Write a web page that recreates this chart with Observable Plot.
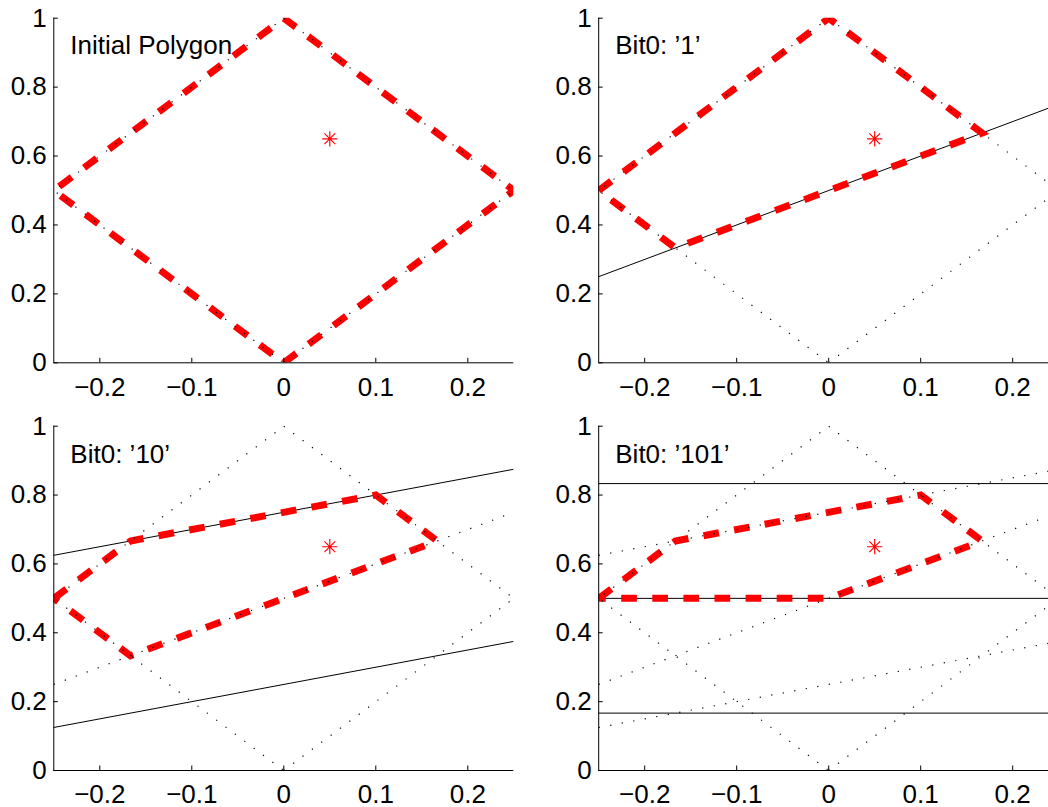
<!DOCTYPE html>
<html>
<head>
<meta charset="utf-8">
<script src="https://cdn.jsdelivr.net/npm/d3@7"></script>
<script src="https://cdn.jsdelivr.net/npm/@observablehq/plot@0.6"></script>
<style>
  html, body { margin: 0; padding: 0; background: #fff; }
  #figure { position: relative; width: 1048px; height: 807px; overflow: hidden; background: #fff; }
  .panel { position: absolute; }
</style>
</head>
<body>
<div id="figure"></div>
<script>
// Polygon bisection steps: each panel shows the current polygon (red),
// the cutting lines for that step (solid) and earlier geometry (dotted).

const xTicks = [-0.2, -0.1, 0, 0.1, 0.2];
const yTicks = [0, 0.2, 0.4, 0.6, 0.8, 1];

const target = [[0.05, 0.65]];

// Initial diamond polygon
const diamond = [[0, 0], [0.25, 0.5], [0, 1], [-0.25, 0.5], [0, 0]];

// Cut lines (end points across the x range)
const cut1 = [[-0.25, 0.25], [0.25, 0.75]];
const cut2Upper = [[-0.25, 0.625], [0.25, 0.875]];
const cut2Lower = [[-0.25, 0.125], [0.25, 0.375]];
const cut3Top = [[-0.25, 5 / 6], [0.25, 5 / 6]];
const cut3Mid = [[-0.25, 0.5], [0.25, 0.5]];
const cut3Bottom = [[-0.25, 1 / 6], [0.25, 1 / 6]];

// Remaining polygon after each step
const poly0 = diamond;
const poly1 = [[-0.25, 0.5], [0, 1], [1 / 6, 2 / 3], [-1 / 6, 1 / 3], [-0.25, 0.5]];
const poly2 = [[-0.25, 0.5], [-1 / 6, 2 / 3], [0.1, 0.8], [1 / 6, 2 / 3], [-1 / 6, 1 / 3], [-0.25, 0.5]];
const poly3 = [[-0.25, 0.5], [-1 / 6, 2 / 3], [0.1, 0.8], [1 / 6, 2 / 3], [0, 0.5], [-0.25, 0.5]];

const titles = ["Initial Polygon", "Bit0: \u20191\u2019", "Bit0: \u201910\u2019", "Bit0: \u2019101\u2019"];
const titleX = [-0.232, -0.232, -0.232, -0.232];
const titleY = [0.921, 0.921, 0.918, 0.918];

// MATLAB-style eight-armed asterisk marker
const asterisk = {
  draw(context, size) {
    const r = Math.sqrt(size / Math.PI);
    const d = r * Math.SQRT1_2;
    context.moveTo(-r, 0); context.lineTo(r, 0);
    context.moveTo(0, -r); context.lineTo(0, r);
    context.moveTo(-d, -d); context.lineTo(d, d);
    context.moveTo(-d, d); context.lineTo(d, -d);
  }
};

const fmt = d => String(d).replace("-", "\u2212");

function panel({poly, solid, dotted, title, tx, ty, left, top, width, height, mLeft, mRight, mTop, mBottom}) {
  const xy = {x: d => d[0], y: d => d[1]};
  const marks = [];
  for (const s of solid) {
    marks.push(Plot.line(s, {...xy, stroke: "black", strokeWidth: 1, clip: true}));
  }
  marks.push(Plot.line(poly, {
    ...xy, stroke: "#ff0000", strokeWidth: 7, strokeDasharray: "15.7,15.4",
    strokeLinecap: "butt", strokeLinejoin: "miter", strokeMiterlimit: 4, clip: true
  }));
  for (const s of dotted) {
    marks.push(Plot.line(s, {
      ...xy, stroke: "black", strokeWidth: 1.2, strokeDasharray: "1.2,10.5",
      strokeLinecap: "butt", clip: true
    }));
  }
  marks.push(Plot.dot(target, {...xy, symbol: asterisk, r: 7.6, stroke: "#ff0000", fill: "none", strokeWidth: 1.15}));
  marks.push(Plot.text([title], {x: tx, y: ty, text: d => d, textAnchor: "start", lineAnchor: "middle", fontSize: 26, fill: "black"}));
  marks.push(Plot.ruleX([-0.25], {stroke: "black", strokeWidth: 1}));
  marks.push(Plot.ruleY([0], {stroke: "black", strokeWidth: 1}));
  marks.push(Plot.axisX(xTicks, {tickSize: -4.5, tickPadding: 19, tickFormat: fmt, label: null, fontSize: 26}));
  marks.push(Plot.axisY(yTicks, {tickSize: -4.5, tickPadding: 11.5, tickFormat: fmt, label: null, fontSize: 26}));

  const svg = Plot.plot({
    width, height,
    marginLeft: mLeft, marginRight: mRight, marginTop: mTop, marginBottom: mBottom,
    x: {domain: [-0.25, 0.25]},
    y: {domain: [0, 1]},
    style: {
      fontFamily: "'Liberation Sans', Arial, Helvetica, sans-serif",
      fontSize: "26px",
      background: "transparent",
      maxWidth: "none",
      color: "black"
    },
    marks
  });
  const div = document.createElement("div");
  div.className = "panel";
  div.style.left = left + "px";
  div.style.top = top + "px";
  div.style.width = width + "px";
  div.style.height = height + "px";
  div.appendChild(svg);
  document.getElementById("figure").appendChild(div);
}

const topRow = {top: 0, height: 405, mTop: 17.7, mBottom: 42.7};
const bottomRow = {top: 405, height: 402, mTop: 20.7, mBottom: 37};
const leftCol = {left: 0, width: 544, mLeft: 53.3, mRight: 30.7};
const rightCol = {left: 545, width: 540, mLeft: 53.2, mRight: 26.8};

panel({...topRow, ...leftCol, poly: poly0, solid: [], dotted: [diamond], title: titles[0], tx: titleX[0], ty: titleY[0]});
panel({...topRow, ...rightCol, poly: poly1, solid: [cut1], dotted: [diamond], title: titles[1], tx: titleX[1], ty: titleY[1]});
panel({...bottomRow, ...leftCol, poly: poly2, solid: [cut2Upper, cut2Lower], dotted: [diamond, cut1], title: titles[2], tx: titleX[2], ty: titleY[2]});
panel({...bottomRow, ...rightCol, poly: poly3, solid: [cut3Top, cut3Mid, cut3Bottom], dotted: [diamond, cut1, cut2Upper, cut2Lower], title: titles[3], tx: titleX[3], ty: titleY[3]});
</script>
</body>
</html>
